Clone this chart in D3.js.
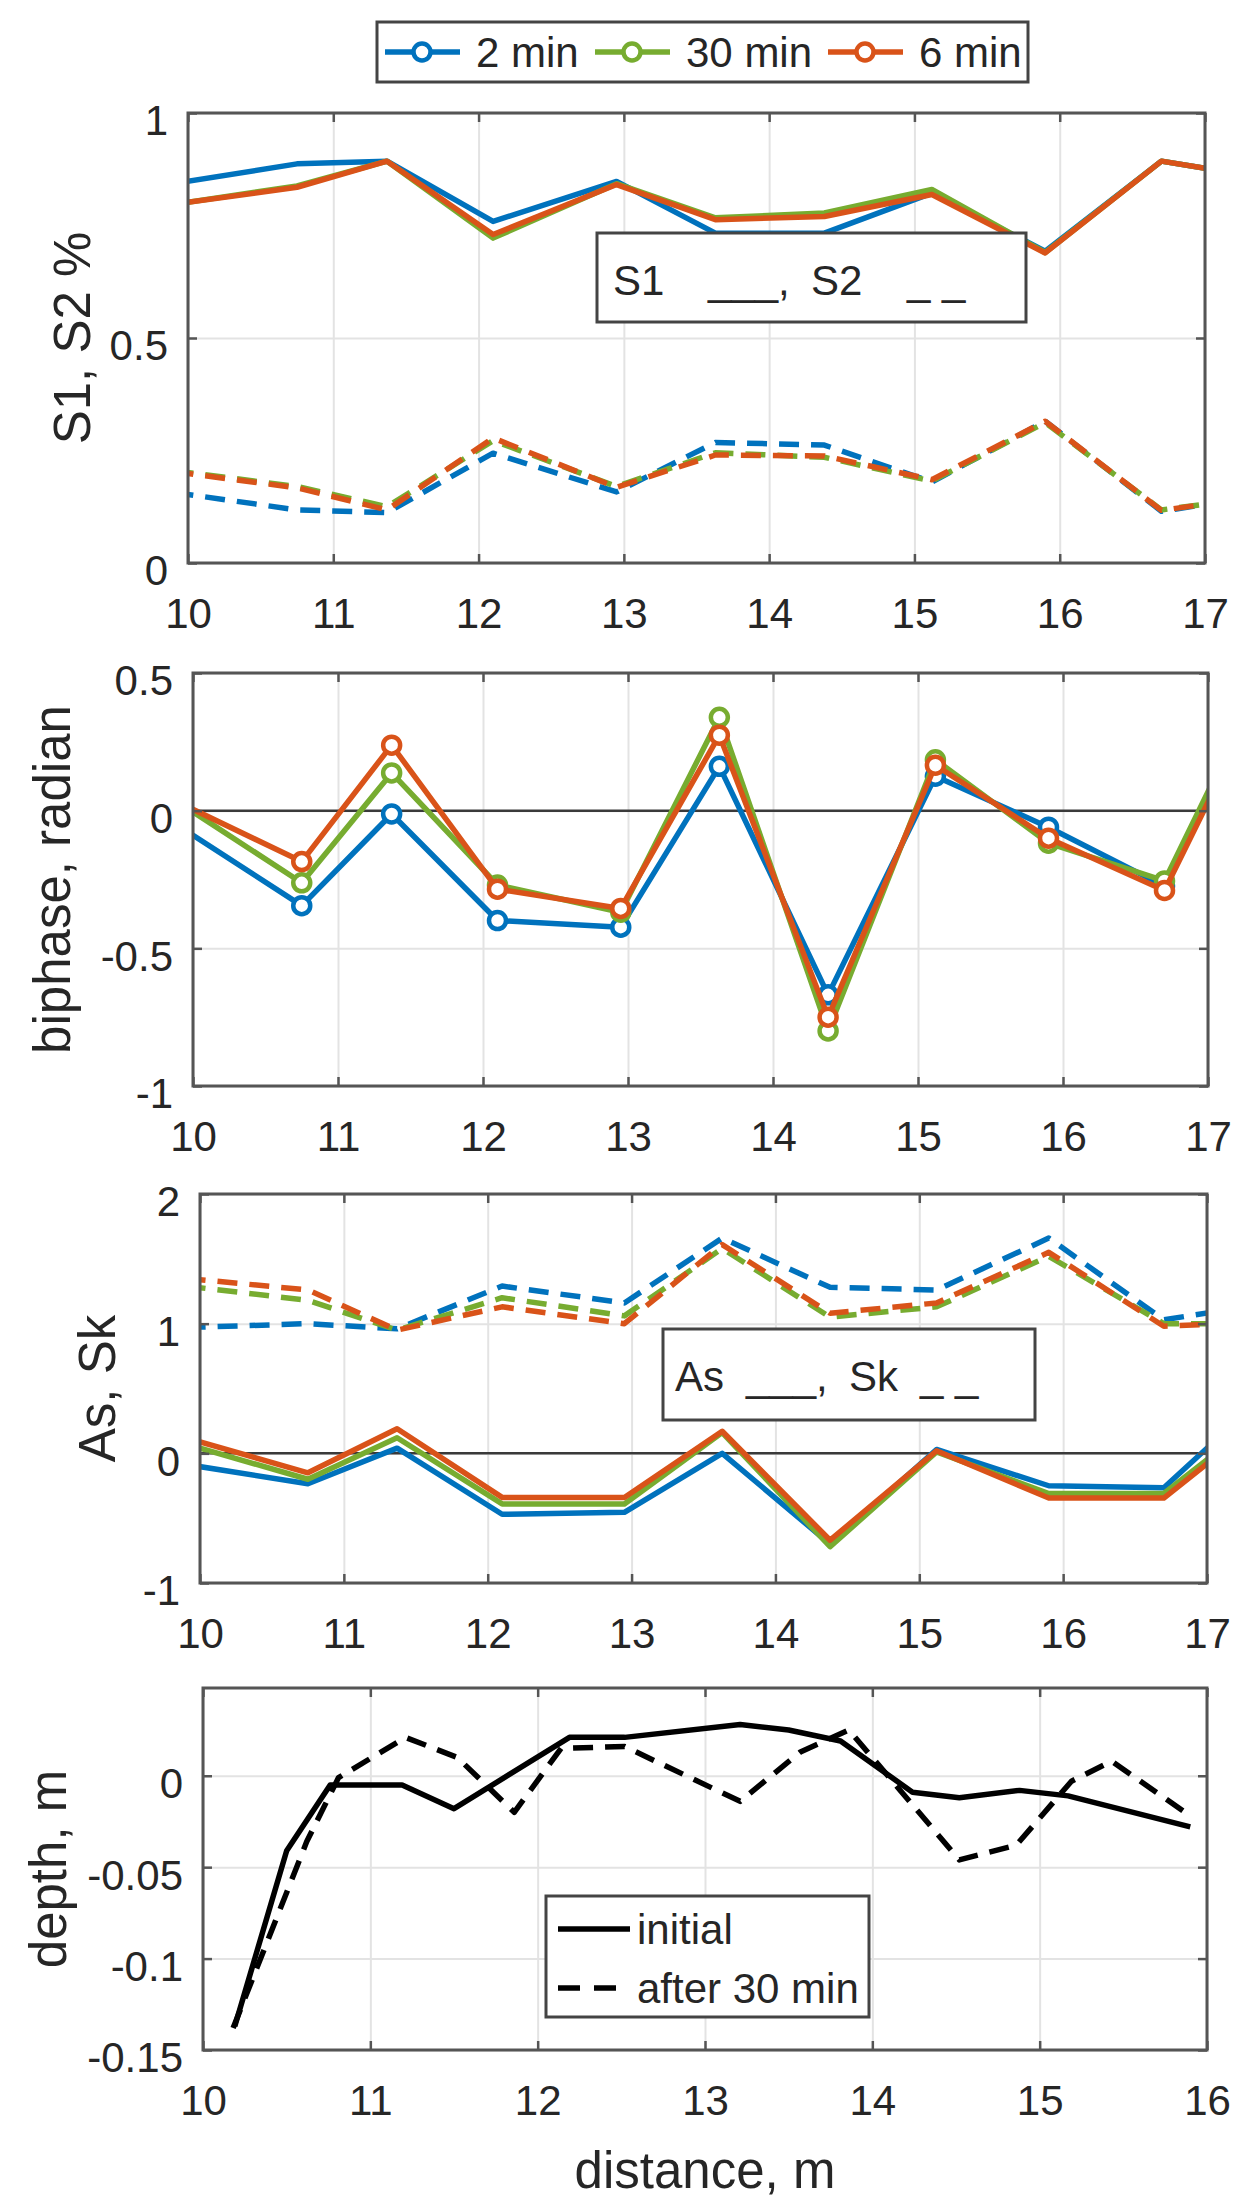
<!DOCTYPE html>
<html>
<head>
<meta charset="utf-8">
<script src="https://cdnjs.cloudflare.com/ajax/libs/d3/7.8.5/d3.min.js"></script>
<style>
  body { margin: 0; background: #fff; }
  svg text { font-family: "Liberation Sans", Arial, Helvetica, sans-serif; fill: #262626; }
</style>
</head>
<body>
<svg id="chart" width="1247" height="2210"></svg>
<script>
// ---- data ----
var runs = ["2 min", "30 min", "6 min"];
var runColors = ["#0072BD", "#77AC30", "#D95319"];

// measurement stations (first/last fall just outside the axes and get clipped)
var distance = [9.9, 10.75, 11.37, 12.1, 12.95, 13.63, 14.38, 15.12, 15.9, 16.7, 17.1];

var s1Min2  = [0.843, 0.887, 0.893, 0.759, 0.848, 0.733, 0.733, 0.822, 0.693, 0.893, 0.872];
var s1Min30 = [0.797, 0.838, 0.893, 0.722, 0.843, 0.767, 0.778, 0.830, 0.690, 0.893, 0.872];
var s1Min6  = [0.797, 0.835, 0.893, 0.730, 0.841, 0.763, 0.770, 0.819, 0.689, 0.893, 0.872];

var s2Min2  = [0.157, 0.118, 0.112, 0.244, 0.158, 0.268, 0.262, 0.180, 0.315, 0.115, 0.135];
var s2Min30 = [0.205, 0.170, 0.125, 0.272, 0.170, 0.245, 0.235, 0.182, 0.312, 0.118, 0.135];
var s2Min6  = [0.203, 0.167, 0.118, 0.278, 0.168, 0.240, 0.238, 0.185, 0.315, 0.117, 0.135];

var biMin2  = [-0.055, -0.345, -0.012, -0.399, -0.423, 0.161, -0.669, 0.125, -0.060, -0.274, 0.158];
var biMin30 = [0.030, -0.262, 0.137, -0.270, -0.369, 0.339, -0.800, 0.185, -0.118, -0.255, 0.177];
var biMin6  = [0.030, -0.185, 0.238, -0.285, -0.355, 0.274, -0.750, 0.165, -0.100, -0.290, 0.137];

var asMin2  = [-0.085, -0.235, 0.040, -0.470, -0.455, 0.000, -0.700, 0.030, -0.250, -0.265, 0.142];
var asMin30 = [0.072, -0.200, 0.120, -0.390, -0.390, 0.160, -0.720, 0.010, -0.310, -0.310, 0.037];
var asMin6  = [0.120, -0.150, 0.190, -0.340, -0.340, 0.170, -0.670, 0.020, -0.345, -0.345, 0.008];

var skMin2  = [0.97, 1.00, 0.96, 1.29, 1.16, 1.66, 1.28, 1.26, 1.66, 1.03, 1.10];
var skMin30 = [1.29, 1.18, 0.95, 1.20, 1.06, 1.58, 1.05, 1.13, 1.52, 1.00, 1.00];
var skMin6  = [1.35, 1.26, 0.95, 1.13, 1.00, 1.61, 1.08, 1.16, 1.55, 0.98, 1.00];

var depthInitX = [10.19, 10.5, 10.76, 11.19, 11.5, 12.19, 12.52, 13.21, 13.5, 13.81, 14.24, 14.52, 14.88, 15.17, 15.9];
var depthInit  = [-0.137, -0.041, -0.005, -0.005, -0.018, 0.021, 0.021, 0.028, 0.025, 0.019, -0.009, -0.012, -0.008, -0.011, -0.028];
var depthAfterX = [10.18, 10.62, 10.81, 11.21, 11.52, 11.86, 12.14, 12.52, 13.21, 13.57, 13.86, 14.52, 14.86, 15.19, 15.43, 15.9];
var depthAfter  = [-0.138, -0.036, -0.001, 0.021, 0.010, -0.020, 0.015, 0.016, -0.014, 0.013, 0.025, -0.046, -0.038, -0.003, 0.008, -0.022];

var xTicks = [10, 11, 12, 13, 14, 15, 16, 17];
var depthXTicks = [10, 11, 12, 13, 14, 15, 16];
var s1Ticks = [0, 0.5, 1];
var biTicks = [-1, -0.5, 0, 0.5];
var asTicks = [-1, 0, 1, 2];
var depthTicks = [-0.15, -0.1, -0.05, 0];

var Chart = (function () {

  var svg = d3.select("#chart");
  var tickFont = 42, labelFont = 51, lineW = 5.5, dash = "20,12";
  var fmt = function (d) { return String(d); };

  var makePanel = function (p) {
    var x = d3.scaleLinear().domain(p.xDomain).range([p.left, p.right]);
    var y = d3.scaleLinear().domain(p.yDomain).range([p.bottom, p.top]);
    var w = p.right - p.left, h = p.bottom - p.top;
    var g = svg.append("g");

    // light grid
    g.append("g")
      .attr("transform", "translate(0," + p.bottom + ")")
      .call(d3.axisBottom(x).tickValues(p.xTicks).tickSize(-h).tickFormat(""))
      .call(function (a) { a.select(".domain").remove(); a.selectAll("line").attr("stroke", "#e3e3e3").attr("stroke-width", 2); });
    g.append("g")
      .attr("transform", "translate(" + p.left + ",0)")
      .call(d3.axisLeft(y).tickValues(p.yTicks).tickSize(-w).tickFormat(""))
      .call(function (a) { a.select(".domain").remove(); a.selectAll("line").attr("stroke", "#e3e3e3").attr("stroke-width", 2); });

    if (p.zeroLine) {
      g.append("line")
        .attr("x1", p.left).attr("x2", p.right)
        .attr("y1", y(0)).attr("y2", y(0))
        .attr("stroke", "#3a3a3a").attr("stroke-width", 2.5);
    }

    svg.append("clipPath").attr("id", p.id + "-clip")
      .append("rect").attr("x", p.left).attr("y", p.top).attr("width", w).attr("height", h);

    var plot = g.append("g").attr("clip-path", "url(#" + p.id + "-clip)");
    return { x: x, y: y, g: g, plot: plot, p: p };
  };

  var finishPanel = function (P) {
    var p = P.p, g = P.g;
    var style = function (a) {
      a.select(".domain").remove();
      a.selectAll("line").attr("stroke", "#555").attr("stroke-width", 2.5);
      a.selectAll("text").attr("font-size", tickFont).attr("fill", "#262626")
        .attr("font-family", "Liberation Sans, Arial, sans-serif");
    };
    g.append("g").attr("transform", "translate(0," + p.bottom + ")")
      .call(d3.axisBottom(P.x).tickValues(p.xTicks).tickSize(-9).tickPadding(35).tickFormat(fmt)).call(style);
    g.append("g").attr("transform", "translate(0," + p.top + ")")
      .call(d3.axisTop(P.x).tickValues(p.xTicks).tickSize(-9).tickFormat("")).call(style);
    g.append("g").attr("transform", "translate(" + p.left + ",0)")
      .call(d3.axisLeft(P.y).tickValues(p.yTicks).tickSize(-9).tickPadding(20).tickFormat(fmt)).call(style)
      .selectAll("text").attr("dy", "0.52em");
    g.append("g").attr("transform", "translate(" + p.right + ",0)")
      .call(d3.axisRight(P.y).tickValues(p.yTicks).tickSize(-9).tickFormat("")).call(style);

    g.append("rect")
      .attr("x", p.left).attr("y", p.top)
      .attr("width", p.right - p.left).attr("height", p.bottom - p.top)
      .attr("fill", "none").attr("stroke", "#555").attr("stroke-width", 3);

    g.append("text")
      .attr("transform", "translate(" + p.labelX + "," + ((p.top + p.bottom) / 2) + ") rotate(-90)")
      .attr("text-anchor", "middle")
      .attr("font-size", labelFont)
      .text(p.label);
  };

  var drawSeries = function (P, xs, ys, color, dashed, markers) {
    var pts = xs.map(function (d, i) { return [d, ys[i]]; });
    var line = d3.line()
      .x(function (d) { return P.x(d[0]); })
      .y(function (d) { return P.y(d[1]); });
    P.plot.append("path").datum(pts)
      .attr("d", line)
      .attr("fill", "none")
      .attr("stroke", color)
      .attr("stroke-width", lineW)
      .attr("stroke-linejoin", "round")
      .attr("stroke-dasharray", dashed ? dash : null);
    if (markers) {
      P.plot.selectAll(null).data(pts).enter().append("circle")
        .attr("cx", function (d) { return P.x(d[0]); })
        .attr("cy", function (d) { return P.y(d[1]); })
        .attr("r", 8.5)
        .attr("fill", "#fff")
        .attr("stroke", color)
        .attr("stroke-width", 4.5);
    }
  };

  var boxLegend = function (x0, y0, x1, y1) {
    svg.append("rect")
      .attr("x", x0).attr("y", y0).attr("width", x1 - x0).attr("height", y1 - y0)
      .attr("fill", "#fff").attr("stroke", "#444").attr("stroke-width", 3);
  };

  return {
    Start: function () {

      // top legend
      boxLegend(377, 22, 1028, 82);
      var legX = [385, 595, 828];
      runs.forEach(function (r, i) {
        svg.append("line").attr("x1", legX[i]).attr("x2", legX[i] + 75)
          .attr("y1", 52).attr("y2", 52)
          .attr("stroke", runColors[i]).attr("stroke-width", lineW);
        svg.append("circle").attr("cx", legX[i] + 37).attr("cy", 52).attr("r", 8.5)
          .attr("fill", "#fff").attr("stroke", runColors[i]).attr("stroke-width", 4.5);
        svg.append("text").attr("x", legX[i] + 91).attr("y", 67)
          .attr("font-size", tickFont).text(r);
      });

      // panel 1: S1 / S2
      var P1 = makePanel({ id: "p1", left: 188, right: 1205, top: 113, bottom: 563,
        xDomain: [10, 17], yDomain: [0, 1], xTicks: xTicks, yTicks: s1Ticks,
        label: "S1, S2 %", labelX: 90 });
      [s2Min2, s2Min30, s2Min6].forEach(function (v, i) { drawSeries(P1, distance, v, runColors[i], true, false); });
      [s1Min2, s1Min30, s1Min6].forEach(function (v, i) { drawSeries(P1, distance, v, runColors[i], false, false); });
      finishPanel(P1);
      boxLegend(597, 233, 1026, 322);
      var t1 = svg.append("text").attr("y", 295).attr("font-size", tickFont);
      t1.append("tspan").attr("x", 613).text("S1");
      t1.append("tspan").attr("x", 708).text("___,");
      t1.append("tspan").attr("x", 811).text("S2");
      t1.append("tspan").attr("x", 907).text("_ _");

      // panel 2: biphase
      var P2 = makePanel({ id: "p2", left: 193, right: 1208, top: 673, bottom: 1086,
        xDomain: [10, 17], yDomain: [-1, 0.5], xTicks: xTicks, yTicks: biTicks,
        label: "biphase, radian", labelX: 70, zeroLine: true });
      [biMin2, biMin30, biMin6].forEach(function (v, i) { drawSeries(P2, distance, v, runColors[i], false, true); });
      finishPanel(P2);

      // panel 3: As / Sk
      var P3 = makePanel({ id: "p3", left: 200, right: 1207, top: 1194, bottom: 1583,
        xDomain: [10, 17], yDomain: [-1, 2], xTicks: xTicks, yTicks: asTicks,
        label: "As, Sk", labelX: 115, zeroLine: true });
      [skMin2, skMin30, skMin6].forEach(function (v, i) { drawSeries(P3, distance, v, runColors[i], true, false); });
      [asMin2, asMin30, asMin6].forEach(function (v, i) { drawSeries(P3, distance, v, runColors[i], false, false); });
      finishPanel(P3);
      boxLegend(663, 1329, 1035, 1420);
      var t3 = svg.append("text").attr("y", 1391).attr("font-size", tickFont);
      t3.append("tspan").attr("x", 675).text("As");
      t3.append("tspan").attr("x", 746).text("___,");
      t3.append("tspan").attr("x", 849).text("Sk");
      t3.append("tspan").attr("x", 920).text("_ _");

      // panel 4: depth
      var P4 = makePanel({ id: "p4", left: 203, right: 1207, top: 1688, bottom: 2050,
        xDomain: [10, 16], yDomain: [-0.15, 0.048], xTicks: depthXTicks, yTicks: depthTicks,
        label: "depth, m", labelX: 66 });
      drawSeries(P4, depthInitX, depthInit, "#000", false, false);
      drawSeries(P4, depthAfterX, depthAfter, "#000", true, false);
      finishPanel(P4);

      svg.append("text").attr("x", 705).attr("y", 2188)
        .attr("text-anchor", "middle").attr("font-size", labelFont)
        .text("distance, m");

      boxLegend(546, 1896, 869, 2017);
      svg.append("line").attr("x1", 558).attr("x2", 630).attr("y1", 1929).attr("y2", 1929)
        .attr("stroke", "#000").attr("stroke-width", lineW);
      svg.append("text").attr("x", 637).attr("y", 1944).attr("font-size", tickFont).text("initial");
      svg.append("line").attr("x1", 558).attr("x2", 620).attr("y1", 1988).attr("y2", 1988)
        .attr("stroke", "#000").attr("stroke-width", lineW).attr("stroke-dasharray", "22,14");
      svg.append("text").attr("x", 637).attr("y", 2003).attr("font-size", tickFont).text("after 30 min");
    }
  };
})();

Chart.Start();
</script>
</body>
</html>
